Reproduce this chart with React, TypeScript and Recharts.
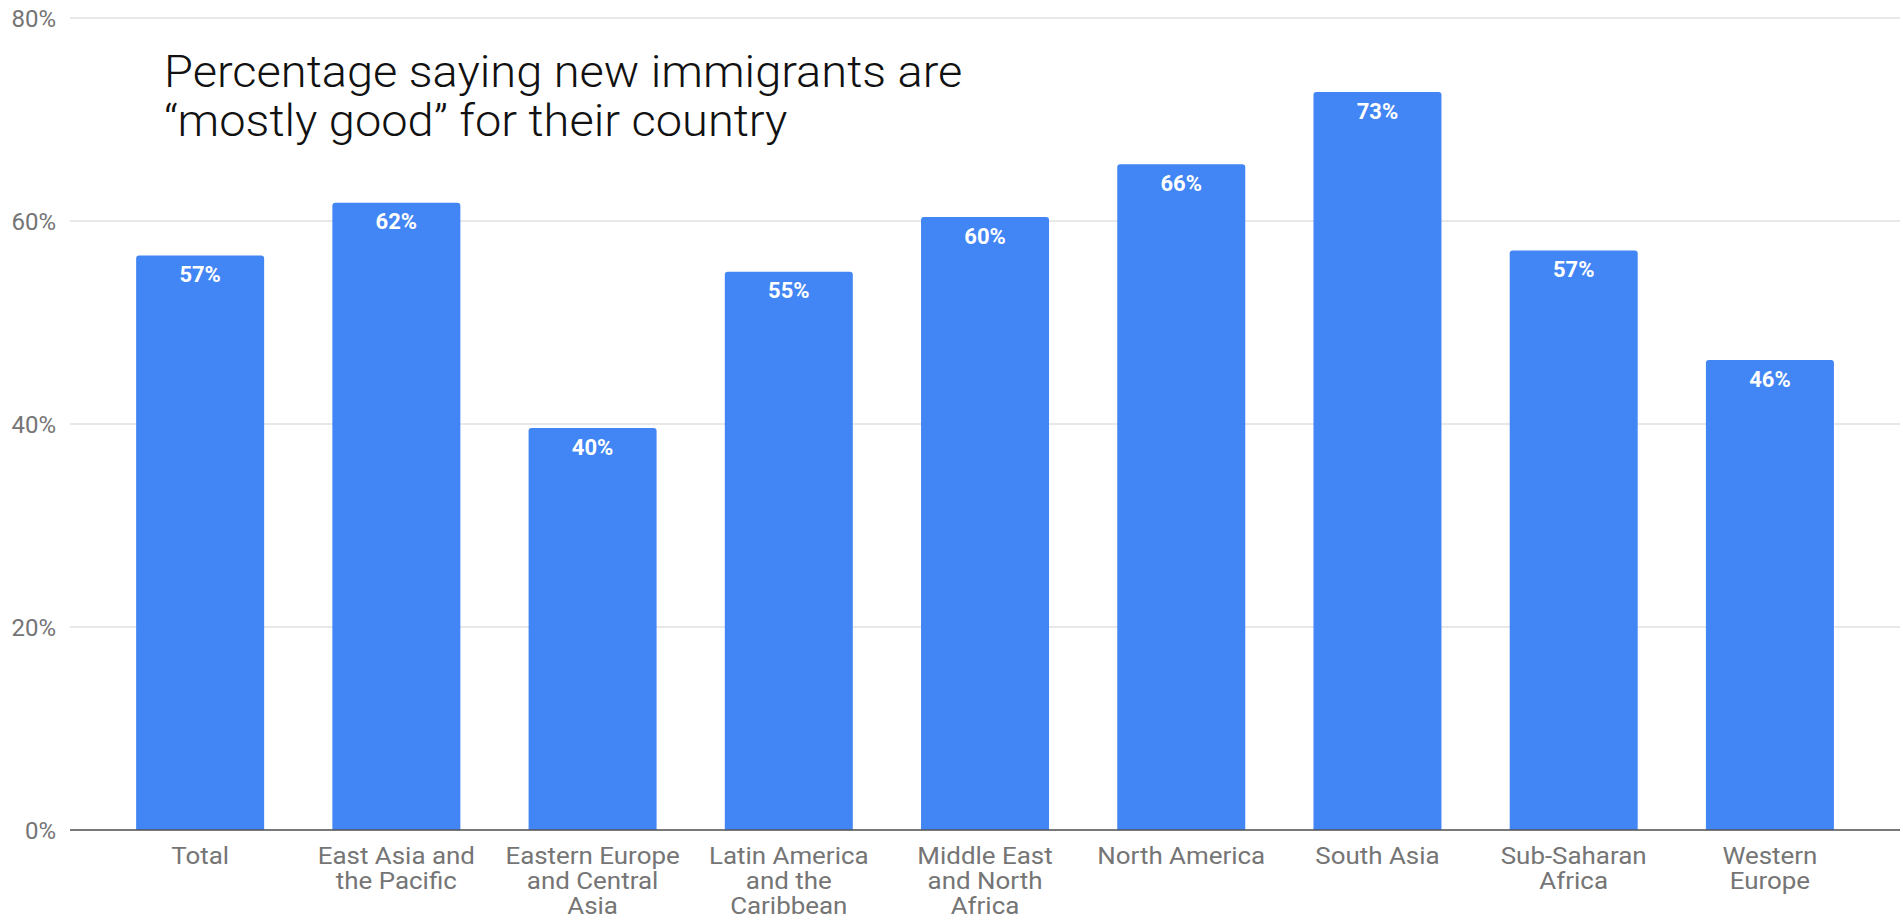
import React from 'react';
import { BarChart, Bar, XAxis, YAxis, CartesianGrid, LabelList } from 'recharts';

const categories = [
  'Total',
  'East Asia and the Pacific',
  'Eastern Europe and Central Asia',
  'Latin America and the Caribbean',
  'Middle East and North Africa',
  'North America',
  'South Asia',
  'Sub-Saharan Africa',
  'Western Europe',
];
const tickLines = [
  ['Total'],
  ['East Asia and', 'the Pacific'],
  ['Eastern Europe', 'and Central', 'Asia'],
  ['Latin America', 'and the', 'Caribbean'],
  ['Middle East', 'and North', 'Africa'],
  ['North America'],
  ['South Asia'],
  ['Sub-Saharan', 'Africa'],
  ['Western', 'Europe'],
];
const values = [56.6, 61.8, 39.6, 55.0, 60.4, 65.6, 72.7, 57.1, 46.3];
const yTicks = [0, 20, 40, 60, 80];
const titleLines = ['Percentage saying new immigrants are', '\u201Cmostly good\u201D for their country'];

const data = categories.map((c, i) => ({ name: c, value: values[i] }));

const XTick = (props: any) => {
  const { x, y, payload } = props;
  const idx = categories.indexOf(payload.value);
  const lines = idx >= 0 ? tickLines[idx] : [String(payload.value)];
  return (
    <g transform={`translate(${x},${y}) scale(1.08,1)`}>
      <text x={0} y={0} textAnchor="middle" fill="#757575" fontFamily="Roboto" fontSize={24}>
        {lines.map((l, i) => (
          <tspan key={i} x={0} dy={i === 0 ? 34 : 25}>{l}</tspan>
        ))}
      </text>
    </g>
  );
};

export default function App() {
  return (
    <div style={{ position: 'absolute', left: 0, top: 0, width: 1903, height: 922, background: '#fff' }}>
      <BarChart
        width={1903}
        height={922}
        data={data}
        margin={{ top: 18, right: 3, bottom: 0, left: 0 }}
        barCategoryGap="17.4%"
      >
        <CartesianGrid vertical={false} stroke="#e0e0e0" strokeWidth={1.5} />
        <YAxis
          type="number"
          domain={[0, 80]}
          ticks={yTicks}
          width={70}
          axisLine={false}
          tickLine={false}
          tickSize={0}
          tickMargin={14}
          tickFormatter={(v: number) => `${v}%`}
          tick={{ fill: '#757575', fontFamily: 'Roboto', fontSize: 24 }}
        />
        <XAxis
          dataKey="name"
          height={92}
          interval={0}
          padding={{ left: 32, right: 32 }}
          axisLine={{ stroke: '#555555', strokeWidth: 1.5 }}
          tickLine={false}
          tickSize={0}
          tickMargin={0}
          tick={<XTick />}
        />
        <Bar dataKey="value" fill="#4285F4" radius={[3, 3, 0, 0]} isAnimationActive={false}>
          <LabelList
            dataKey="value"
            position="insideTop"
            offset={11}
            formatter={(v: any) => `${Math.round(Number(v))}%`}
            fill="#ffffff"
            fontFamily="Roboto"
            fontWeight="bold"
            fontSize={22}
          />
        </Bar>
      </BarChart>
      <div
        style={{
          position: 'absolute',
          left: 164,
          top: 47,
          fontFamily: 'Roboto, "Liberation Sans", sans-serif',
          fontSize: 45,
          lineHeight: '49px',
          color: '#111',
          fontWeight: 300,
          whiteSpace: 'nowrap',
          transform: 'scaleX(1.044)',
          transformOrigin: 'left top',
        }}
      >
        {titleLines.map((t, i) => (
          <div key={i}>{t}</div>
        ))}
      </div>
    </div>
  );
}
